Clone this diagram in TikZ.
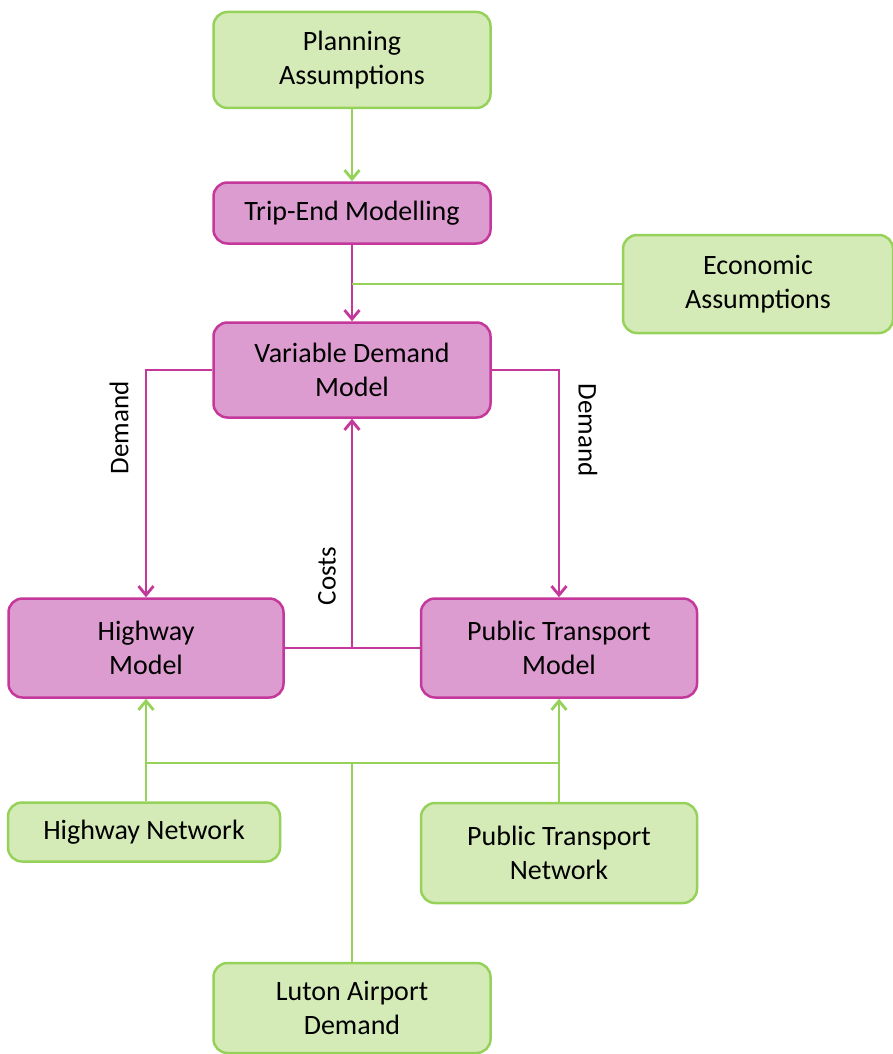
\documentclass[tikz,border=0pt]{standalone}
\usepackage{fontspec}
\setmainfont{Carlito}
\usetikzlibrary{arrows.meta}
\definecolor{pfill}{RGB}{220,156,208}
\definecolor{pline}{RGB}{196,56,156}
\definecolor{gfill}{RGB}{212,235,184}
\definecolor{gline}{RGB}{150,210,90}
\begin{document}
\begin{tikzpicture}[x=1pt,y=-1pt,
  box/.style={rounded corners=14pt,line width=2.5pt,align=center,font=\fontsize{28}{34}\selectfont,inner sep=0pt},
  pbox/.style={box,draw=pline,fill=pfill},
  gbox/.style={box,draw=gline,fill=gfill},
  pl/.style={draw=pline,line width=2.8pt},
  gl/.style={draw=gline,line width=2.8pt},
  tip/.style={-{Straight Barb[length=9pt,width=15pt,line width=2.8pt]}},
  lab/.style={font=\fontsize{27}{30}\selectfont}]
\useasboundingbox (0,0) rectangle (893,1054);
\node[gbox,minimum width=277pt,minimum height=96pt] (pa) at (352,60) {Planning\\Assumptions};
\node[pbox,minimum width=277pt,minimum height=61pt] (te) at (352,213) {Trip-End Modelling};
\node[gbox,minimum width=270pt,minimum height=98pt] (ea) at (758,284) {Economic\\Assumptions};
\node[pbox,minimum width=277pt,minimum height=95pt] (vdm) at (352,370) {Variable Demand\\Model};
\node[pbox,minimum width=275pt,minimum height=99pt] (hm) at (146,648) {Highway\\Model};
\node[pbox,minimum width=276pt,minimum height=99pt] (ptm) at (559,648) {Public Transport\\Model};
\node[gbox,minimum width=272pt,minimum height=59pt] (hn) at (144,832) {Highway Network};
\node[gbox,minimum width=276pt,minimum height=100pt] (ptn) at (559,853) {Public Transport\\Network};
\node[gbox,minimum width=277pt,minimum height=90pt] (la) at (352,1008) {Luton Airport\\Demand};
\coordinate (ej) at (352,284);
\coordinate (cj) at (352,648);
\coordinate (gj) at (352,763);
\draw[gl,tip] (pa.south) -- (te.north);
\draw[pl,tip] (te.south) -- (vdm.north);
\draw[gl] (ea.west) -- (ej);
\draw[pl,tip] (vdm.west) -| (hm.north);
\draw[pl,tip] (vdm.east) -| (ptm.north);
\draw[pl] (hm.east) -- (ptm.west);
\draw[pl,tip] (cj) -- (vdm.south);
\node[lab,rotate=90] (d1) at (119,428) {Demand};
\node[lab,rotate=-90] (d2) at (588,430) {Demand};
\node[lab,rotate=90] (co) at (327,576) {Costs};
\draw[gl,tip] (hn.north -| hm.south) -- (hm.south);
\draw[gl,tip] (ptn.north) -- (ptm.south);
\draw[gl] (hm.south |- gj) -- (ptm.south |- gj);
\draw[gl] (la.north) -- (gj);
\end{tikzpicture}
\end{document}
